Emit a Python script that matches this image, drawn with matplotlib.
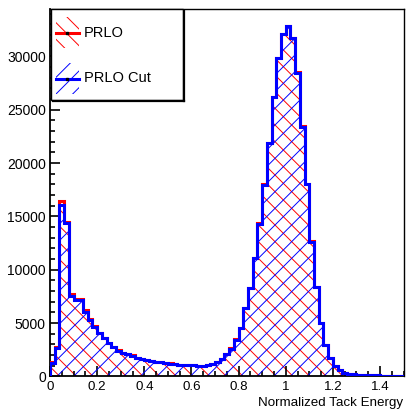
import matplotlib
matplotlib.use('Agg')
import matplotlib.pyplot as plt
import numpy as np
from matplotlib.patches import Rectangle
from matplotlib.lines import Line2D
from matplotlib.ticker import MultipleLocator

plt.rcParams['font.family'] = ['Liberation Sans', 'DejaVu Sans']
plt.rcParams['hatch.linewidth'] = 0.7

# ---------------- data ----------------
x_min, x_max, bin_width = 0.0, 1.5, 0.02

prlo_cut = [
    1280, 2620, 16100, 14340, 7550, 7150, 7150, 6060, 5280, 4650,
    4030, 3560, 3090, 2720, 2400, 2210, 2090, 1940, 1750, 1650,
    1550, 1450, 1380, 1320, 1260, 1200, 1150, 1100, 1070, 1050,
    1030, 1000, 1000, 1050, 1150, 1350, 1650, 2100, 2600, 3450,
    4500, 6370, 8250, 11060, 14300, 17940, 21850, 26160, 29800, 32060,
    32800, 31700, 28460, 23400, 18030, 12620, 8340, 4970, 2950, 1690,
    1000, 560, 340, 250, 200, 170, 140, 120, 100, 90,
    80, 70, 60, 50, 50,
]
prlo = [
    1350, 2750, 16450, 14500, 7700, 7300, 7280, 6180, 5380, 4740,
    4100, 3620, 3140, 2760, 2440, 2240, 2110, 1960, 1770, 1665,
    1565, 1465, 1390, 1330, 1270, 1210, 1160, 1110, 1080, 1060,
    1040, 1010, 1010, 1060, 1160, 1360, 1665, 2115, 2620, 3470,
    4530, 6400, 8290, 11100, 14350, 18000, 21900, 26220, 29860, 32120,
    32860, 31760, 28520, 23450, 18070, 12650, 8360, 4990, 2960, 1700,
    1005, 565, 342, 252, 202, 171, 141, 121, 101, 91,
    81, 71, 61, 51, 51,
]

y_max = 34440
x_ticks = [0, 0.2, 0.4, 0.6, 0.8, 1.0, 1.2, 1.4]
x_tick_labels = ['0', '0.2', '0.4', '0.6', '0.8', '1', '1.2', '1.4']
y_ticks = [0, 5000, 10000, 15000, 20000, 25000, 30000]
y_tick_labels = ['0', '5000', '10000', '15000', '20000', '25000', '30000']
legend_labels = ['PRLO', 'PRLO Cut']
x_label = 'Normalized Tack Energy'

# ---------------- figure ----------------
W, H = 407, 409
fig = plt.figure(figsize=(W / 100, H / 100), dpi=100)


def fx(x):
    return x / W


def fy(y):
    return 1 - y / H


ax = fig.add_axes([fx(50), fy(376.4), (403.6 - 50) / W, (376.4 - 9) / H])

n_bins = int(round((x_max - x_min) / bin_width))
edges = np.linspace(x_min, x_max, n_bins + 1)

ax.stairs(prlo, edges, fill=True, facecolor='none', edgecolor='red',
          hatch='\\\\', linewidth=0, zorder=1)
ax.stairs(prlo_cut, edges, fill=True, facecolor='none', edgecolor='blue',
          hatch='//', linewidth=0, zorder=2)
ax.stairs(prlo, edges, color='red', linewidth=2.2, zorder=3)
ax.stairs(prlo_cut, edges, color='blue', linewidth=2.2, zorder=4)

ax.set_xlim(x_min, x_max)
ax.set_ylim(0, y_max)
ax.set_xticks(x_ticks)
ax.set_xticklabels(x_tick_labels)
ax.set_yticks(y_ticks)
ax.set_yticklabels(y_tick_labels)
ax.xaxis.set_minor_locator(MultipleLocator(0.05))
ax.yaxis.set_minor_locator(MultipleLocator(1000))
ax.tick_params(which='both', direction='in', top=False, right=False,
               width=1.2, colors='black')
ax.tick_params(which='major', length=7.2)
ax.tick_params(which='minor', length=3.5)
ax.tick_params(axis='x', pad=3, labelsize=9.6)
ax.tick_params(axis='y', pad=3, labelsize=10)
for s in ['left', 'bottom']:
    ax.spines[s].set_linewidth(1.3)
for s in ['top', 'right']:
    ax.spines[s].set_linewidth(1.0)

fig.text(fx(403), fy(406), x_label, ha='right', va='baseline', fontsize=9.6)

# ---------------- legend (ROOT style) ----------------
box = Rectangle((fx(51), fy(100)), (183 - 51) / W, (100 - 9) / H,
                transform=fig.transFigure, facecolor='white',
                edgecolor='black', linewidth=1.0, zorder=10)
fig.add_artist(box)
fig.add_artist(Line2D([fx(183.5), fx(183.5)], [fy(11), fy(101)],
                      transform=fig.transFigure, color='black', lw=1.6, zorder=11))
fig.add_artist(Line2D([fx(53), fx(184)], [fy(100.5), fy(100.5)],
                      transform=fig.transFigure, color='black', lw=1.6, zorder=11))

entries = [(legend_labels[0], 'red', '\\\\', 32.7),
           (legend_labels[1], 'blue', '//', 78.5)]
for label, col, hatch, yc in entries:
    r = Rectangle((fx(56), fy(yc + 15.5)), (79 - 56) / W, 31 / H,
                  transform=fig.transFigure, facecolor='none', edgecolor=col,
                  hatch=hatch, linewidth=0, zorder=12)
    fig.add_artist(r)
    fig.add_artist(Line2D([fx(56), fx(79)], [fy(yc), fy(yc)],
                          transform=fig.transFigure, color=col, lw=2.2, zorder=13))
    fig.add_artist(Line2D([fx(66.5)], [fy(yc)], transform=fig.transFigure,
                          marker='s', ms=1.5, color='black', lw=0, zorder=14))
    fig.text(fx(83.5), fy(yc), label, ha='left', va='center', fontsize=10.5,
             zorder=15)

fig.savefig('out.png', dpi=100)
